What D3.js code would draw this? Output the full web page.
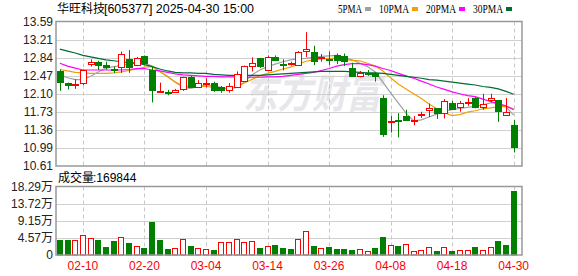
<!DOCTYPE html>
<html>
<head>
<meta charset="utf-8">
<script src="https://cdn.jsdelivr.net/npm/d3@7"></script>
<title>华旺科技 K线</title>
<style>
	body { margin: 0; background: #fff; }
	svg text { font-family: "Liberation Sans", Arial, "Noto Sans CJK SC", sans-serif; }
</style>
</head>
<body>
<div id="chart"></div>
<script>

// trading days shown (MM-DD)
var dates = ["02-05","02-06","02-07","02-10","02-11","02-12","02-13","02-14","02-17","02-18",
	"02-19","02-20","02-21","02-24","02-25","02-26","02-27","02-28","03-03","03-04",
	"03-05","03-06","03-07","03-10","03-11","03-12","03-13","03-14","03-17","03-18",
	"03-19","03-20","03-21","03-24","03-25","03-26","03-27","03-28","03-31","04-01",
	"04-02","04-03","04-07","04-08","04-09","04-10","04-11","04-14","04-15","04-16",
	"04-17","04-18","04-21","04-22","04-23","04-24","04-25","04-28","04-29","04-30"];

var openP = [12.56,12.32,12.30,12.33,12.71,12.76,12.70,12.61,12.65,12.81,
	12.69,12.88,12.60,12.14,12.13,12.14,12.19,12.44,12.25,12.32,
	12.33,12.23,12.18,12.25,12.37,12.66,12.83,12.59,12.86,12.72,
	12.71,12.70,12.97,12.97,12.83,12.82,12.89,12.87,12.63,12.45,
	12.53,12.52,12.02,11.53,11.56,11.64,11.54,11.66,11.75,11.80,
	11.70,11.90,11.82,11.92,12.01,11.82,11.97,11.97,11.66,11.46];
var highP = [12.60,12.33,12.40,12.60,12.81,12.78,12.76,12.66,12.97,13.00,
	12.86,12.89,12.67,12.33,12.18,12.20,12.45,12.47,12.38,12.42,
	12.35,12.26,12.32,12.56,12.68,12.85,12.84,12.89,12.89,12.81,
	12.76,12.98,13.37,13.09,12.92,12.97,12.93,12.93,12.74,12.57,
	12.59,12.55,12.07,11.64,11.70,11.77,11.64,11.73,11.90,11.80,
	11.99,11.95,11.95,12.01,12.03,12.10,12.10,11.97,12.01,11.56];
var lowP = [12.16,12.19,12.20,12.28,12.66,12.59,12.60,12.53,12.53,12.53,
	12.67,12.69,11.92,12.14,12.07,12.12,12.16,12.22,12.23,12.23,
	12.14,12.12,12.12,12.22,12.36,12.56,12.63,12.59,12.78,12.58,
	12.68,12.68,12.86,12.69,12.76,12.69,12.71,12.67,12.45,12.44,
	12.47,12.35,11.21,11.30,11.20,11.54,11.45,11.60,11.62,11.58,
	11.59,11.77,11.73,11.85,11.80,11.77,11.92,11.52,11.66,10.89];
var closeP = [12.33,12.28,12.31,12.59,12.76,12.70,12.66,12.59,12.92,12.65,
	12.83,12.73,12.18,12.15,12.11,12.18,12.44,12.23,12.33,12.33,
	12.19,12.16,12.26,12.51,12.67,12.73,12.66,12.86,12.79,12.70,
	12.74,12.96,13.02,12.79,12.86,12.80,12.79,12.77,12.47,12.52,
	12.52,12.45,11.28,11.54,11.54,11.56,11.55,11.68,11.80,11.70,
	11.95,11.78,11.90,11.94,11.83,11.89,12.01,11.75,11.72,11.01];

// moving averages as drawn
var ma5 = [12.49,12.43,12.39,12.39,12.46,12.55,12.63,12.66,12.68,12.72,
	12.73,12.73,12.67,12.56,12.46,12.34,12.23,12.21,12.25,12.28,
	12.26,12.23,12.20,12.23,12.34,12.49,12.59,12.66,12.71,12.76,
	12.80,12.82,12.83,12.85,12.87,12.88,12.89,12.85,12.80,12.73,
	12.66,12.55,12.34,12.12,11.91,11.70,11.54,11.56,11.62,11.68,
	11.74,11.77,11.80,11.82,11.84,11.87,11.91,11.91,11.83,11.66];
var ma10 = [12.60,12.57,12.54,12.53,12.52,12.52,12.52,12.53,12.55,12.58,
	12.61,12.65,12.66,12.56,12.45,12.34,12.27,12.24,12.25,12.25,
	12.23,12.20,12.21,12.25,12.32,12.40,12.47,12.52,12.56,12.61,
	12.65,12.71,12.77,12.80,12.82,12.83,12.83,12.81,12.79,12.78,
	12.73,12.67,12.57,12.43,12.30,12.20,12.10,12.00,11.89,11.79,
	11.71,11.65,11.67,11.72,11.75,11.79,11.81,11.83,11.84,11.79];
var ma20 = [12.73,12.67,12.63,12.59,12.59,12.59,12.59,12.59,12.59,12.60,
	12.62,12.62,12.59,12.57,12.54,12.51,12.49,12.48,12.47,12.46,
	12.46,12.45,12.45,12.45,12.44,12.44,12.44,12.45,12.45,12.46,
	12.48,12.50,12.52,12.54,12.58,12.62,12.67,12.70,12.72,12.72,
	12.70,12.67,12.62,12.58,12.52,12.47,12.42,12.36,12.30,12.24,
	12.19,12.14,12.10,12.06,12.04,11.99,11.94,11.89,11.85,11.77];
var ma30 = [13.02,12.98,12.94,12.89,12.86,12.83,12.80,12.78,12.76,12.74,
	12.73,12.70,12.66,12.61,12.57,12.54,12.53,12.53,12.52,12.52,
	12.50,12.49,12.48,12.48,12.48,12.48,12.48,12.49,12.50,12.51,
	12.52,12.53,12.54,12.55,12.56,12.56,12.56,12.56,12.55,12.54,
	12.53,12.53,12.52,12.50,12.48,12.46,12.44,12.42,12.39,12.38,
	12.36,12.34,12.32,12.30,12.28,12.25,12.23,12.20,12.15,12.09];

var volume = [40700,40700,39900,52400,44500,39900,21300,37300,47100,31900,
	23100,18600,87900,39900,16000,17800,41800,24000,18600,16000,
	13300,34600,34600,41800,34600,37300,18600,23100,26600,18600,
	16000,42600,63900,24000,17800,21300,16000,16000,13300,15200,
	10600,18600,47900,25800,24000,28400,10600,12400,20400,10600,
	20400,10600,12400,12400,21300,12400,20400,37300,26600,169844];
// 1 = red (up) bar, 0 = green (down) bar
var volUp = [0,0,1,1,1,0,0,0,1,0, 1,0,0,0,0,1,1,0,1,1,
	0,1,1,1,1,1,0,1,0,0, 0,1,1,0,1,0,0,0,0,1,
	1,0,0,1,0,1,1,1,1,0, 1,0,1,1,0,1,1,0,0,0];

var priceTicks = ["10.61","10.99","11.36","11.73","12.10","12.47","12.84","13.21","13.59"];
var volTicks = ["0","4.57万","9.15万","13.72万","18.29万"];
var dateTicks = ["02-10","02-20","03-04","03-14","03-26","04-08","04-18","04-30"];
var maNames = ["5PMA","10PMA","20PMA","30PMA"];
var maColors = ["#a0a0a0","#f0a000","#ff00ff","#006b35"];

var W = 578, H = 276;
var left = 56, right = 522;
var pTop = 21.5, pBot = 166, vTop = 186.5, vBot = 255;
var UP = "#ff0000", DOWN = "#008000";

var svg = d3.select("#chart").append("svg")
	.attr("width", W)
	.attr("height", H);

var x = d3.scaleBand().domain(dates).range([left, 517.5]);
function cx(i){ return x(dates[i]) + x.bandwidth()/2; }

var yScale = d3.scaleLinear().domain([10.61, 13.59]).range([pBot, pTop]);
var vScale = d3.scaleLinear().domain([0, 182900]).range([vBot, vTop]);

var priceVals = priceTicks.map(function(d, i){ return 10.61 + i*(13.59-10.61)/8; });
var volVals = volTicks.map(function(d, i){ return i*182900/4; });

// watermark
svg.append("text")
	.attr("x", 243).attr("y", 108)
	.attr("textLength", 138)
	.attr("lengthAdjust", "spacingAndGlyphs")
	.style("font-family", "'Noto Sans CJK SC'")
	.style("font-size", "40px")
	.style("font-weight", "bold")
	.style("font-style", "italic")
	.attr("fill", "#e6e6eb")
	.text("东方财富");

// grid lines
svg.append("g").selectAll("line")
	.data(priceVals.slice(1, 8)).enter().append("line")
	.attr("x1", left).attr("x2", right)
	.attr("y1", function(d){ return Math.round(yScale(d)) + 0.5; })
	.attr("y2", function(d){ return Math.round(yScale(d)) + 0.5; })
	.attr("stroke", "#d0d0d0");

svg.append("g").selectAll("line")
	.data(volVals.slice(1, 4)).enter().append("line")
	.attr("x1", left).attr("x2", right)
	.attr("y1", function(d){ return Math.round(vScale(d)) + 0.5; })
	.attr("y2", function(d){ return Math.round(vScale(d)) + 0.5; })
	.attr("stroke", "#d0d0d0");

[[pTop, pBot], [vTop, vBot]].forEach(function(r){
	svg.append("g").selectAll("line")
		.data(dateTicks).enter().append("line")
		.attr("x1", function(d){ return Math.round(x(d) + x.bandwidth()/2) + 0.5; })
		.attr("x2", function(d){ return Math.round(x(d) + x.bandwidth()/2) + 0.5; })
		.attr("y1", r[0]).attr("y2", r[1])
		.attr("stroke", "#c8c8c8")
		.attr("stroke-dasharray", "4,3");
});

// moving averages
var mas = [ma5, ma10, ma20, ma30];
mas.forEach(function(m, k){
	svg.append("path")
		.datum(m)
		.attr("fill", "none")
		.attr("stroke", maColors[k])
		.attr("stroke-width", 1.2)
		.attr("d", d3.line()
			.x(function(d, i){ return cx(i); })
			.y(function(d){ return yScale(d); }));
});

// candles
var idx = d3.range(dates.length);
var candles = svg.append("g").selectAll("g")
	.data(idx).enter().append("g");

candles.append("line")
	.attr("x1", function(i){ return Math.round(cx(i)) + 0.5; })
	.attr("x2", function(i){ return Math.round(cx(i)) + 0.5; })
	.attr("y1", function(i){ return yScale(highP[i]); })
	.attr("y2", function(i){ return yScale(lowP[i]); })
	.attr("stroke", function(i){ return closeP[i] >= openP[i] ? UP : DOWN; });

candles.append("rect")
	.attr("x", function(i){ return Math.round(cx(i)) - 2.5; })
	.attr("width", 6)
	.attr("y", function(i){ return Math.round(yScale(Math.max(openP[i], closeP[i]))) + 0.5; })
	.attr("height", function(i){
		return Math.max(1, Math.round(Math.abs(yScale(openP[i]) - yScale(closeP[i]))));
	})
	.attr("fill", function(i){ return closeP[i] >= openP[i] ? "#fff" : DOWN; })
	.attr("stroke", function(i){ return closeP[i] >= openP[i] ? UP : DOWN; });

// volume bars
svg.append("g").selectAll("rect")
	.data(idx).enter().append("rect")
	.attr("x", function(i){ return Math.round(cx(i)) - 2.5; })
	.attr("width", 5)
	.attr("y", function(i){ return Math.round(vScale(volume[i])) + 0.5; })
	.attr("height", function(i){ return vBot - Math.round(vScale(volume[i])) - 0.5; })
	.attr("fill", function(i){ return volUp[i] ? "#fff" : DOWN; })
	.attr("stroke", function(i){ return volUp[i] ? UP : DOWN; });

// frames
[[pTop, pBot], [vTop, vBot]].forEach(function(r){
	svg.append("rect")
		.attr("x", left).attr("y", r[0])
		.attr("width", right - left).attr("height", r[1] - r[0])
		.attr("fill", "none")
		.attr("stroke", "#999")
		.attr("stroke-width", 1.5);
});

// axes
var yAxis = d3.axisLeft(yScale)
	.tickValues(priceVals)
	.tickFormat(function(d, i){ return priceTicks[i]; })
	.tickSize(0).tickPadding(3);
var gy = svg.append("g").attr("transform", "translate(" + left + ",0)").call(yAxis);

var vAxis = d3.axisLeft(vScale)
	.tickValues(volVals)
	.tickFormat(function(d, i){ return volTicks[i]; })
	.tickSize(0).tickPadding(3);
var gv = svg.append("g").attr("transform", "translate(" + left + ",0)").call(vAxis);

var xAxis = d3.axisBottom(x)
	.tickValues(dateTicks)
	.tickSize(0).tickPadding(6);
var gx = svg.append("g").attr("transform", "translate(0," + vBot + ")").call(xAxis);

[gy, gv, gx].forEach(function(g){
	g.select(".domain").remove();
	g.selectAll("text")
		.style("font-family", "'Liberation Sans', 'Noto Sans CJK SC'")
		.style("font-size", "12px")
		.attr("fill", "#222");
});
gx.selectAll("text").attr("fill", "#ff0000");

// title
svg.append("text")
	.attr("x", 57).attr("y", 13)
	.style("font-family", "'Noto Sans CJK SC'")
	.style("font-size", "12px")
	.attr("fill", "#000")
	.text("华旺科技");
svg.append("text")
	.attr("x", 104).attr("y", 13)
	.attr("textLength", 150)
	.attr("lengthAdjust", "spacingAndGlyphs")
	.style("font-family", "'Liberation Sans'")
	.style("font-size", "12px")
	.attr("fill", "#000")
	.text("[605377] 2025-04-30 15:00");

// legend
var lx = 338;
maNames.forEach(function(n, k){
	svg.append("text")
		.attr("x", lx).attr("y", 13)
		.attr("textLength", n.length*6)
		.attr("lengthAdjust", "spacingAndGlyphs")
		.style("font-family", "'Liberation Serif'")
		.style("font-size", "13px")
		.attr("fill", "#000")
		.text(n);
	svg.append("rect")
		.attr("x", lx + n.length*6 + 3).attr("y", 7)
		.attr("width", 6).attr("height", 4)
		.attr("fill", maColors[k]);
	lx += n.length*6 + 3 + 6 + 8;
});

// volume caption
svg.append("text")
	.attr("x", 58).attr("y", 182)
	.style("font-family", "'Noto Sans CJK SC'")
	.style("font-size", "12px")
	.attr("fill", "#000")
	.text("成交量");
svg.append("text")
	.attr("x", 93).attr("y", 182)
	.style("font-family", "'Liberation Sans'")
	.style("font-size", "12px")
	.attr("fill", "#000")
	.text(":" + volume[volume.length - 1]);

</script>
</body>
</html>
